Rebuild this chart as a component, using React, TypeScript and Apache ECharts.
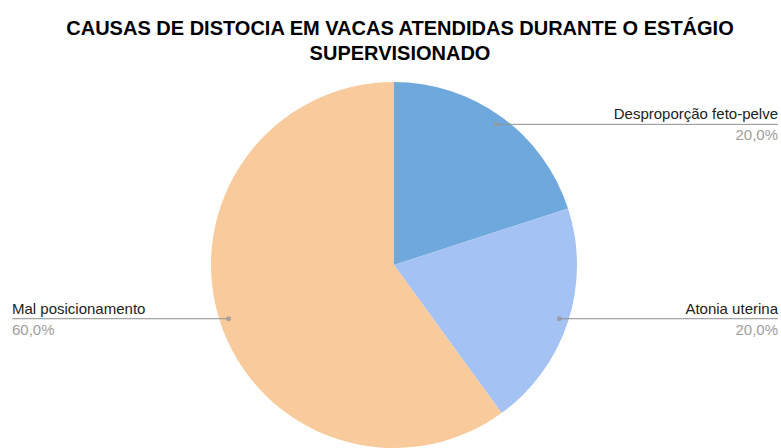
import React, { useEffect, useRef } from "react";
import * as echarts from "echarts";

const TITLE = "CAUSAS DE DISTOCIA EM VACAS ATENDIDAS DURANTE O ESTÁGIO\nSUPERVISIONADO";
const categories = ["Desproporção feto-pelve", "Atonia uterina", "Mal posicionamento"];
const values = [20, 20, 60];
const colors = ["#6fa8dc", "#a4c2f4", "#f9cb9c"];

const CX = 394;
const CY = 265;
const R = 183;
const DOT_FRAC = 0.95;
const FONT = "Liberation Sans, Arial, sans-serif";

export default function App() {
  const ref = useRef<HTMLDivElement>(null);
  useEffect(() => {
    if (!ref.current) return;
    const chart = echarts.init(ref.current, null, { renderer: "svg" });
    const total = values.reduce((a, b) => a + b, 0);
    const mids: number[] = [];
    let cum = 0;
    values.forEach((v) => {
      mids.push(cum + v / 2);
      cum += v;
    });
    const pct = (v: number) => ((v / total) * 100).toFixed(1).replace(".", ",") + "%";
    const startPoint = (i: number) => {
      const a = (mids[i] / total) * Math.PI * 2;
      return [CX + DOT_FRAC * R * Math.sin(a), CY - DOT_FRAC * R * Math.cos(a)];
    };
    const pieData = categories.map((c, i) => ({ name: c, value: values[i], itemStyle: { color: colors[i] } }));
    chart.setOption({
      animation: false,
      backgroundColor: "#ffffff",
      title: {
        text: TITLE,
        left: 395,
        top: 10,
        textAlign: "center",
        textStyle: {
          fontFamily: FONT,
          fontSize: 20,
          fontWeight: "bold",
          color: "#000000",
          lineHeight: 25,
        },
      },
      polar: { center: [CX, CY], radius: R },
      angleAxis: { type: "value", min: 0, max: total, startAngle: 90, clockwise: true, show: false },
      radiusAxis: { type: "value", min: 0, max: 1, show: false },
      series: [
        {
          type: "pie",
          center: [CX, CY],
          radius: R,
          startAngle: 90,
          clockwise: true,
          z: 1,
          silent: true,
          data: pieData,
          label: { show: false },
          labelLine: { show: false },
        },
        {
          type: "pie",
          center: [CX, CY],
          radius: R,
          startAngle: 90,
          clockwise: true,
          z: 3,
          silent: true,
          data: categories.map((c, i) => ({ name: c, value: values[i], itemStyle: { color: "rgba(0,0,0,0)" } })),
          label: {
            show: true,
            position: "outside",
            formatter: (p: any) => `{n|${p.name}}\n{p|${pct(p.value)}}`,
            rich: {
              n: { fontFamily: FONT, fontSize: 15, color: "#222222", lineHeight: 21 },
              p: { fontFamily: FONT, fontSize: 15, color: "#9e9e9e", lineHeight: 21 },
            },
          },
          labelLine: { show: true, lineStyle: { color: "#8f8f8f", width: 1 } },
          labelLayout: (params: any) => {
            const [sx, sy] = startPoint(params.dataIndex);
            const right = sx > CX;
            const ex = right ? 778 : 12;
            return {
              x: ex,
              y: sy,
              align: right ? "right" : "left",
              verticalAlign: "middle",
              labelLinePoints: [
                [sx, sy],
                [sx, sy],
                [ex, sy],
              ],
            };
          },
        },
        {
          type: "scatter",
          coordinateSystem: "polar",
          z: 5,
          symbol: "circle",
          symbolSize: 5,
          itemStyle: { color: "#999999" },
          silent: true,
          data: mids.map((m) => [DOT_FRAC, m]),
        },
      ],
    });
    return () => chart.dispose();
  }, []);
  return (
    <div
      ref={ref}
      style={{ position: "fixed", left: 0, top: 0, width: 781, height: 448 }}
    />
  );
}
